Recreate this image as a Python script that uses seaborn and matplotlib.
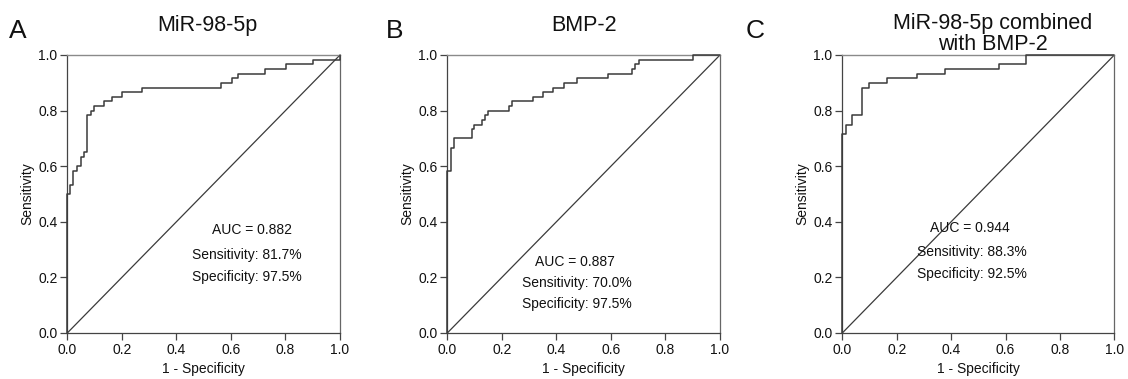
import numpy as np
import pandas as pd
import matplotlib
matplotlib.use("Agg")
import matplotlib.pyplot as plt
import seaborn as sns

# ---- data (step vertices: point where each vertical rise ends) ----
fpr_a = [0.0, 0.0, 0.010, 0.022, 0.034, 0.050, 0.061, 0.073, 0.086, 0.099, 0.136, 0.163,
         0.202, 0.275, 0.564, 0.603, 0.627, 0.725, 0.802, 0.902, 1.0]
tpr_a = [0.0, 0.500, 0.533, 0.583, 0.600, 0.633, 0.650, 0.783, 0.800, 0.817, 0.833, 0.850,
         0.867, 0.883, 0.900, 0.917, 0.933, 0.950, 0.967, 0.983, 1.0]

fpr_b = [0.0, 0.0, 0.013, 0.024, 0.089, 0.099, 0.126, 0.138, 0.150, 0.226, 0.238, 0.313,
         0.350, 0.389, 0.428, 0.477, 0.588, 0.677, 0.688, 0.703, 0.902, 1.0]
tpr_b = [0.0, 0.583, 0.667, 0.700, 0.733, 0.750, 0.767, 0.783, 0.800, 0.817, 0.833, 0.850,
         0.867, 0.883, 0.900, 0.917, 0.933, 0.950, 0.967, 0.983, 1.0, 1.0]

fpr_c = [0.0, 0.0, 0.012, 0.037, 0.073, 0.099, 0.163, 0.275, 0.376, 0.576, 0.675, 1.0]
tpr_c = [0.0, 0.717, 0.750, 0.783, 0.883, 0.900, 0.917, 0.933, 0.950, 0.967, 1.0, 1.0]

letters = ["A", "B", "C"]
titles = [["MiR-98-5p"], ["BMP-2"], ["MiR-98-5p combined", "with BMP-2"]]
auc_texts = ["AUC = 0.882", "AUC = 0.887", "AUC = 0.944"]
sens_texts = ["Sensitivity: 81.7%", "Sensitivity: 70.0%", "Sensitivity: 88.3%"]
spec_texts = ["Specificity: 97.5%", "Specificity: 97.5%", "Specificity: 92.5%"]
ticks = [0.0, 0.2, 0.4, 0.6, 0.8, 1.0]
tick_labels = ["0.0", "0.2", "0.4", "0.6", "0.8", "1.0"]

sns.set_style("ticks")
plt.rcParams["font.family"] = ["Liberation Sans", "DejaVu Sans"]

W, H = 1128, 379
fig = plt.figure(figsize=(W / 100, H / 100), dpi=100)

ax_lefts = [67.3, 447.3, 842.3]
ax_widths = [272.7, 272.7, 272.0]
ax_top, ax_bot = 55, 333

# text positions (axes data coords)
auc_pos = [(0.531, 0.370), (0.322, 0.255), (0.322, 0.378)]
sens_pos = [(0.457, 0.280), (0.274, 0.180), (0.275, 0.291)]
spec_pos = [(0.457, 0.200), (0.274, 0.104), (0.275, 0.212)]
letter_px = [(9, 38), (386, 38), (746, 38)]
title_px = [(207, [31]), (584, [31]), (993, [29, 50])]

curves = [(fpr_a, tpr_a), (fpr_b, tpr_b), (fpr_c, tpr_c)]

for i in range(3):
    ax = fig.add_axes([ax_lefts[i] / W, (H - ax_bot) / H, ax_widths[i] / W, (ax_bot - ax_top) / H])
    df = pd.DataFrame({"fpr": curves[i][0], "tpr": curves[i][1]})
    sns.lineplot(data=df, x="fpr", y="tpr", ax=ax, sort=False, estimator=None,
                 drawstyle="steps-post", color="#3a3a3a", linewidth=1.1, clip_on=False, zorder=5)
    diag = pd.DataFrame({"x": [0.0, 1.0], "y": [0.0, 1.0]})
    sns.lineplot(data=diag, x="x", y="y", ax=ax, sort=False, estimator=None,
                 color="#3a3a3a", linewidth=0.9)
    ax.set_xlim(0, 1)
    ax.set_ylim(0, 1)
    ax.set_xticks(ticks)
    ax.set_xticklabels(tick_labels)
    ax.set_yticks(ticks)
    ax.set_yticklabels(tick_labels)
    ax.tick_params(axis="both", labelsize=10, length=5, width=0.9, color="#444444",
                   pad=2, labelcolor="#111111")
    ax.set_xlabel("1 - Specificity", fontsize=10, labelpad=4, color="#111111")
    ax.set_ylabel("Sensitivity", fontsize=10, labelpad=3, color="#111111")
    for s in ["left", "bottom"]:
        ax.spines[s].set_color("#444444")
        ax.spines[s].set_linewidth(0.9)
    ax.spines["top"].set_color("#8a8a8a")
    ax.spines["right"].set_color("#666666")
    ax.spines["top"].set_linewidth(1.0)
    ax.spines["right"].set_linewidth(0.9)
    ax.spines["top"].set_visible(True)
    ax.spines["right"].set_visible(True)

    ax.text(*auc_pos[i], auc_texts[i], fontsize=10, ha="left", va="center", color="#111111")
    ax.text(*sens_pos[i], sens_texts[i], fontsize=10, ha="left", va="center", color="#111111")
    ax.text(*spec_pos[i], spec_texts[i], fontsize=10, ha="left", va="center", color="#111111")

    lx, ly = letter_px[i]
    fig.text(lx / W, 1 - ly / H, letters[i], fontsize=19, ha="left", va="baseline", color="#111111")
    tx, tys = title_px[i]
    for line, ty in zip(titles[i], tys):
        fig.text(tx / W, 1 - ty / H, line, fontsize=15.5, ha="center", va="baseline",
                 color="#111111")

fig.savefig("out.png", dpi=100)
